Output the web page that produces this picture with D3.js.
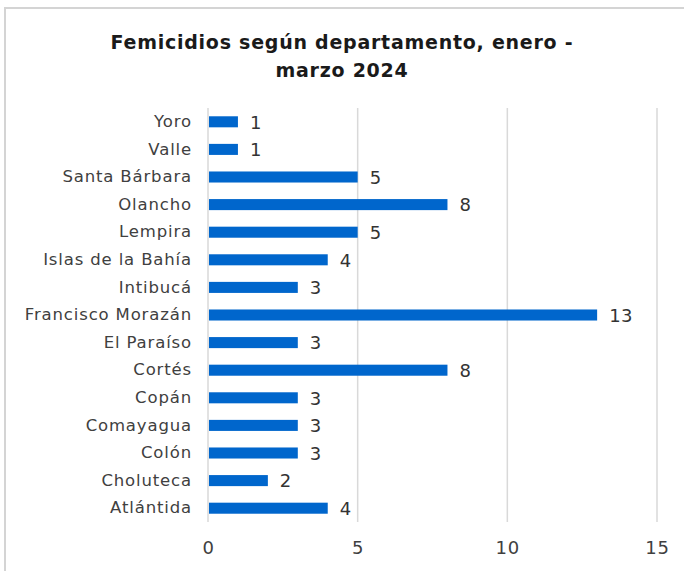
<!DOCTYPE html>
<html>
<head>
<meta charset="utf-8">
<script src="https://cdn.jsdelivr.net/npm/d3@7"></script>
<style>
  body { margin: 0; background: #fff; }
  svg { display: block; }
</style>
</head>
<body>
<div id="chart"></div>
<script>
// data
const departamentos = ["Yoro", "Valle", "Santa Bárbara", "Olancho", "Lempira", "Islas de la Bahía",
  "Intibucá", "Francisco Morazán", "El Paraíso", "Cortés", "Copán", "Comayagua", "Colón",
  "Choluteca", "Atlántida"];
const casos = [1, 1, 5, 8, 5, 4, 3, 13, 3, 8, 3, 3, 3, 2, 4];
const xTicks = [0, 5, 10, 15];
const titulo = ["Femicidios según departamento, enero -", "marzo 2024"];

const W = 684, H = 571;
const margin = {top: 108, right: 27, bottom: 49, left: 208};
const width = W - margin.left - margin.right,
    height = H - margin.top - margin.bottom;
const fuente = "DejaVu Sans";

const root = d3.select("#chart").append("svg")
  .attr("width", W)
  .attr("height", H);

// outer frame (only top and left edges visible)
root.append("path")
  .attr("d", `M5,${H} L5,8 L${W},8`)
  .attr("fill", "none")
  .attr("stroke", "#d4d4d4")
  .attr("stroke-width", 2);

// title
root.append("text")
  .attr("x", 342)
  .attr("y", 49)
  .attr("text-anchor", "middle")
  .attr("font-family", fuente)
  .attr("font-weight", "bold")
  .style("font-size", "19px")
  .style("letter-spacing", "0.75px")
  .attr("fill", "#1a1a1a")
  .selectAll("tspan")
  .data(titulo)
  .join("tspan")
    .attr("x", 342)
    .attr("dy", (d, i) => i === 0 ? 0 : 28)
    .text(d => d);

const svg = root.append("g")
  .attr("transform", `translate(${margin.left}, ${margin.top})`);

const x = d3.scaleLinear()
  .domain([0, 15])
  .range([0, 449]);

const y = d3.scaleBand()
  .domain(departamentos)
  .range([0, height])
  .paddingInner(0.6)
  .paddingOuter(0.3);

// gridlines
svg.append("g")
  .selectAll("line")
  .data(xTicks)
  .join("line")
    .attr("x1", d => x(d))
    .attr("x2", d => x(d))
    .attr("y1", 0)
    .attr("y2", height)
    .attr("stroke", "#d9d9d9")
    .attr("stroke-width", 1.5);

// x axis labels
const xAxis = svg.append("g")
  .attr("transform", `translate(0, ${height})`)
  .call(d3.axisBottom(x).tickValues(xTicks).tickSize(0).tickPadding(19));
xAxis.select(".domain").remove();
xAxis.selectAll("text")
  .attr("font-family", fuente)
  .style("font-size", "18px")
  .style("letter-spacing", "0.8px")
  .attr("fill", "#404040");

// y axis labels
const yAxis = svg.append("g")
  .call(d3.axisLeft(y).tickSize(0).tickPadding(16));
yAxis.select(".domain").remove();
yAxis.selectAll("text")
  .attr("font-family", fuente)
  .style("font-size", "16.5px")
  .style("letter-spacing", "0.85px")
  .attr("fill", "#404040");

// bars
svg.selectAll("rect.bar")
  .data(departamentos)
  .join("rect")
    .attr("class", "bar")
    .attr("x", x(0) + 1)
    .attr("y", d => y(d))
    .attr("width", (d, i) => x(casos[i]) - x(0) - 1)
    .attr("height", y.bandwidth())
    .attr("fill", "#0066cc");

// value labels
svg.selectAll("text.val")
  .data(departamentos)
  .join("text")
    .attr("class", "val")
    .attr("x", (d, i) => x(casos[i]) + 12)
    .attr("y", d => y(d) + y.bandwidth() / 2)
    .attr("dy", "0.38em")
    .attr("font-family", fuente)
    .style("font-size", "18px")
    .style("letter-spacing", "0.5px")
    .attr("fill", "#333")
    .text((d, i) => casos[i]);
</script>
</body>
</html>
